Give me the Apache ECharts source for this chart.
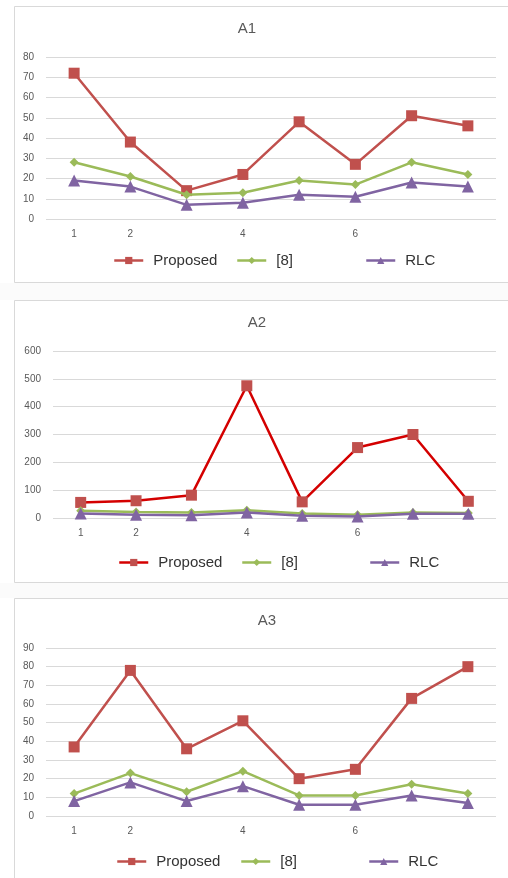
<!DOCTYPE html>
<html><head><meta charset="utf-8">
<script src="https://cdn.jsdelivr.net/npm/echarts@6/dist/echarts.min.js"></script>
<style>html,body{margin:0;padding:0;background:#fff}#c{width:508px;height:878px}</style>
</head><body><div id="c"></div>
<script>
// ---- data ----
const categories = ['1','2','3','4','5','6','7','8'];
const xTickLabels = ['1','2','','4','','6','',''];
const seriesNames = ['Proposed','[8]','RLC'];
const panelTitles = ['A1','A2','A3'];

const a1Proposed = [72, 38, 14, 22, 48, 27, 51, 46];
const a1Ref8     = [28, 21, 12, 13, 19, 17, 28, 22];
const a1RLC      = [19, 16, 7, 8, 12, 11, 18, 16];

const a2Proposed = [56, 62, 82, 475, 58, 253, 300, 60];
const a2Ref8     = [26, 22, 20, 28, 16, 12, 20, 18];
const a2RLC      = [16, 12, 10, 20, 8, 5, 15, 15];

const a3Proposed = [37, 78, 36, 51, 20, 25, 63, 80];
const a3Ref8     = [12, 23, 13, 24, 11, 11, 17, 12];
const a3RLC      = [8, 18, 8, 16, 6, 6, 11, 7];

const yMaxes     = [80, 600, 90];
const yIntervals = [10, 100, 10];

// ---- layout / style ----
const FONT = 'Liberation Sans';
const panelData = [[a1Proposed, a1Ref8, a1RLC],[a2Proposed, a2Ref8, a2RLC],[a3Proposed, a3Ref8, a3RLC]];
const layout = [
  {tx:247, ty:29,  box:[14.5,6.5,520,276],   grid:{left:46, top:57,  width:450, height:162}, lTop:253, lLefts:[113,236,365], propLine:'#c0504d'},
  {tx:257, ty:323, box:[14.5,300.5,520,282], grid:{left:53, top:351, width:443, height:167}, lTop:555, lLefts:[118,241,369], propLine:'#d40000'},
  {tx:267, ty:621, box:[14.5,598.5,520,300], grid:{left:46, top:648, width:450, height:168}, lTop:854, lLefts:[116,240,368], propLine:'#c0504d'}
];
const markerColors = ['#c0504d','#9bbb59','#8064a2'];
const symbols = ['rect','diamond','triangle'];
const symbolSizes = [11, 9, 12];

const grids=[], xAxes=[], yAxes=[], series=[], legends=[], graphics=[];
graphics.push({type:'rect', shape:{x:0,y:283,width:508,height:17}, style:{fill:'#fbfbfb'}, silent:true, z:-10});
graphics.push({type:'rect', shape:{x:0,y:583,width:508,height:15}, style:{fill:'#fbfbfb'}, silent:true, z:-10});

layout.forEach((L, p) => {
  graphics.push({type:'rect', shape:{x:L.box[0],y:L.box[1],width:L.box[2],height:L.box[3]}, style:{fill:'none', stroke:'#d9d9d9', lineWidth:1}, silent:true, z:-5});
  graphics.push({type:'text', x:L.tx, y:L.ty, style:{text:panelTitles[p], fontFamily:FONT, fontSize:15, fill:'#595959', align:'center', verticalAlign:'middle'}});
  grids.push(Object.assign({containLabel:false}, L.grid));
  xAxes.push({type:'category', gridIndex:p, data:categories, boundaryGap:true,
    axisLine:{show:false}, axisTick:{show:false}, splitLine:{show:false},
    axisLabel:{interval:0, formatter:(v,i)=>xTickLabels[i], fontFamily:FONT, fontSize:10, color:'#595959', margin:10}});
  yAxes.push({type:'value', gridIndex:p, min:0, max:yMaxes[p], interval:yIntervals[p],
    axisLine:{show:false}, axisTick:{show:false},
    splitLine:{lineStyle:{color:'#d9d9d9', width:1}},
    axisLabel:{fontFamily:FONT, fontSize:10, color:'#595959', margin:12}});
  seriesNames.forEach((name, s) => {
    const lineColor = s===0 ? L.propLine : markerColors[s];
    series.push({type:'line', name:name, xAxisIndex:p, yAxisIndex:p, data:panelData[p][s],
      symbol:symbols[s], symbolSize:symbolSizes[s], showSymbol:true,
      lineStyle:{color:lineColor, width:2.5}, itemStyle:{color:markerColors[s]}, z:2+s});
    legends.push({left:L.lLefts[s], top:L.lTop, selectedMode:false, itemWidth:29, itemHeight:9, padding:0,
      data:[{name:name, itemStyle:{color:markerColors[s]}, lineStyle:{color:lineColor, width:2.5}}],
      textStyle:{fontFamily:FONT, fontSize:15, color:'#333333', padding:[0,0,0,5]}});
  });
});

const chart = echarts.init(document.getElementById('c'));
chart.setOption({animation:false, backgroundColor:'#fff', graphic:graphics, grid:grids, xAxis:xAxes, yAxis:yAxes, legend:legends, series:series});
</script></body></html>
